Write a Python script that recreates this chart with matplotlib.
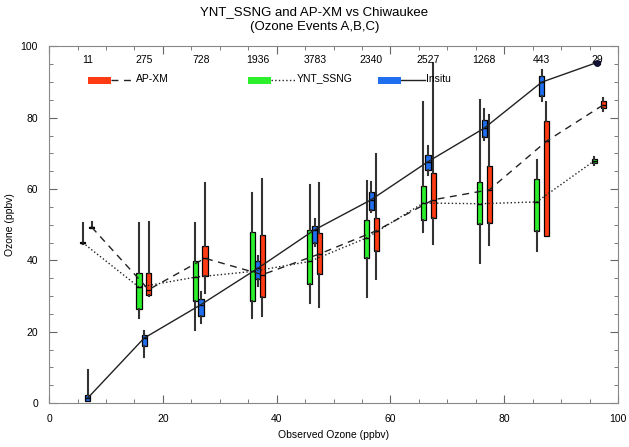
import numpy as np
import matplotlib
matplotlib.use("Agg")
from matplotlib import pyplot as plt
from matplotlib.patches import Rectangle

plt.rcParams['font.family'] = ['Liberation Sans', 'DejaVu Sans']

# bin counts shown along the top
counts = ["11", "275", "728", "1936", "3783", "2340", "2527", "1268", "443", "29"]

# Insitu (blue)
pos_ins = [6.8, 16.7, 26.7, 36.7, 46.7, 56.6, 66.6, 76.5, 86.6, 96.3]
lo_ins = [0.5, 12.8, 22.4, 32.7, 43.9, 53.5, 64.0, 73.8, 84.6, 95.0]
q1_ins = [0.7, 15.9, 24.3, 34.8, 45.0, 54.2, 65.4, 74.7, 86.2, 95.2]
med_ins = [1.4, 18.2, 27.6, 37.8, 48.6, 57.0, 67.7, 77.1, 90.0, 95.5]
q3_ins = [2.3, 19.2, 29.3, 39.7, 49.7, 59.3, 69.7, 79.4, 91.8, 95.8]
hi_ins = [9.3, 20.1, 31.0, 41.1, 51.6, 61.9, 72.0, 82.5, 93.4, 96.0]

# YNT_SSNG (green)
pos_ynt = [5.9, 15.8, 25.7, 35.7, 45.8, 55.8, 65.8, 75.7, 85.7, 95.8]
lo_ynt = [44.5, 23.8, 20.5, 23.8, 28.0, 29.6, 47.9, 39.2, 42.5, 66.8]
q1_ynt = [44.8, 26.4, 28.5, 28.7, 33.4, 40.8, 51.2, 50.1, 48.3, 67.2]
med_ynt = [45.0, 32.5, 35.3, 36.9, 39.7, 46.3, 56.1, 55.9, 56.4, 67.9]
q3_ynt = [45.3, 36.4, 39.7, 48.1, 48.6, 51.4, 61.0, 61.9, 62.8, 68.5]
hi_ynt = [50.5, 50.6, 50.6, 59.0, 61.2, 62.4, 84.3, 85.0, 68.2, 68.9]

# AP-XM (red)
pos_apx = [7.5, 17.5, 27.4, 37.5, 47.5, 57.5, 67.5, 77.4, 87.4, 97.4]
lo_apx = [49.0, 29.9, 30.8, 24.5, 26.9, 34.8, 44.6, 44.4, 46.9, 82.0]
q1_apx = [49.1, 30.4, 35.5, 29.6, 36.2, 42.5, 51.9, 50.6, 46.9, 82.7]
med_apx = [49.3, 31.8, 40.6, 36.0, 41.8, 48.3, 57.0, 59.8, 73.4, 83.6]
q3_apx = [49.5, 36.4, 44.1, 47.2, 47.8, 51.8, 64.5, 66.6, 79.2, 84.6]
hi_apx = [50.9, 50.8, 61.7, 62.8, 61.7, 69.9, 95.3, 80.8, 84.3, 85.5]

c_red = '#ff3b14'
c_green = '#2cf02c'
c_blue = '#1f6ff0'


def make_stats(lo, q1, med, q3, hi):
    return [dict(whislo=a, q1=b, med=c, q3=d, whishi=e)
            for a, b, c, d, e in zip(lo, q1, med, q3, hi)]


fig = plt.figure(figsize=(6.29, 4.47), dpi=100)
ax = fig.add_axes([0.078, 0.0984, 0.9045, 0.7976])

dash = (0, (5, 4))
series = [
    (pos_ynt, make_stats(lo_ynt, q1_ynt, med_ynt, q3_ynt, hi_ynt), c_green, med_ynt, ':'),
    (pos_apx, make_stats(lo_apx, q1_apx, med_apx, q3_apx, hi_apx), c_red, med_apx, dash),
    (pos_ins, make_stats(lo_ins, q1_ins, med_ins, q3_ins, hi_ins), c_blue, med_ins, '-'),
]

for pos, stats, col, med, ls in series:
    ax.bxp(stats, positions=pos, widths=0.9, showfliers=False, showcaps=False,
           patch_artist=True, manage_ticks=False,
           boxprops=dict(facecolor=col, edgecolor='black', linewidth=0.9),
           whiskerprops=dict(color='#333333', linewidth=1.5),
           medianprops=dict(color='black', linewidth=1.0))
    ax.plot(pos, med, color='#222222', linestyle=ls, linewidth=1.0, zorder=4)

ax.plot(pos_ins[-1], med_ins[-1], 'o', color='#111133', markersize=4, zorder=5)

for x, c in zip(pos_ins, counts):
    ax.text(x, 96.2, c, ha='center', va='center', fontsize=7.5)

# legend drawn by hand
leg = [(0.0685, c_red, dash, 'AP-XM'),
       (0.350, c_green, ':', 'YNT_SSNG'),
       (0.578, c_blue, '-', 'Insitu')]
for x0, col, ls, lab in leg:
    ax.add_patch(Rectangle((x0, 0.895), 0.04, 0.02, transform=ax.transAxes,
                           facecolor=col, edgecolor='none', zorder=5))
    ax.plot([x0 + 0.04, x0 + 0.083], [0.905, 0.905], transform=ax.transAxes,
            color='#222222', linestyle=ls, linewidth=1.0)
    ax.text(x0 + 0.085, 0.91, lab, transform=ax.transAxes, fontsize=7.5,
            ha='left', va='center')

ax.set_xlim(0, 100)
ax.set_ylim(0, 100)
ax.set_xticks(np.arange(0, 101, 20))
ax.set_yticks(np.arange(0, 101, 20))
ax.set_xticks(np.arange(0, 101, 5), minor=True)
ax.set_yticks(np.arange(0, 101, 5), minor=True)
ax.tick_params(which='both', direction='in', top=True, right=True,
               labelsize=7.5, color='#666666')
ax.tick_params(which='major', length=6, pad=8)
ax.tick_params(which='minor', length=3)
for s in ax.spines.values():
    s.set_color('#888888')

ax.set_xlabel("Observed Ozone (ppbv)", fontsize=7.5, labelpad=4)
ax.set_ylabel("Ozone (ppbv)", fontsize=7.5, labelpad=4)

fig.text(0.5, 0.972, "YNT_SSNG and AP-XM vs Chiwaukee", ha='center', va='center', fontsize=9.5)
fig.text(0.5, 0.940, "(Ozone Events A,B,C)", ha='center', va='center', fontsize=9.5)

fig.savefig("out.png", dpi=100)
